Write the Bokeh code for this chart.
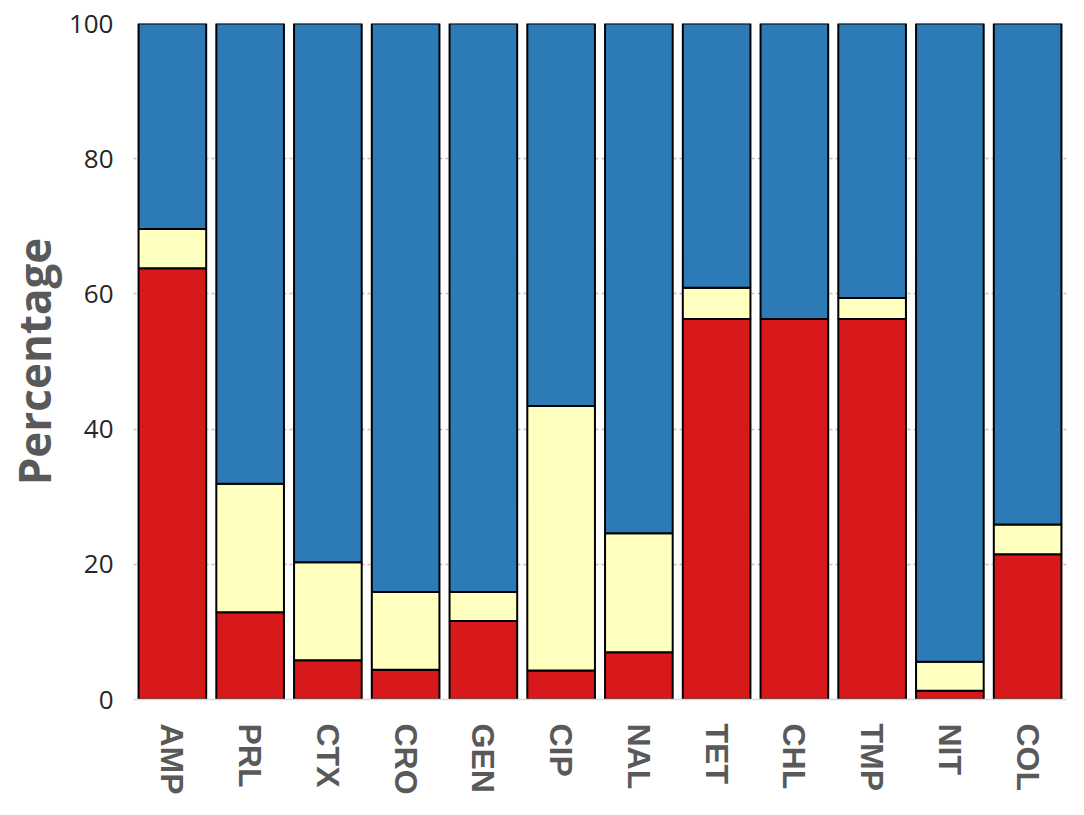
import math
from bokeh.plotting import figure
from bokeh.models import FactorRange, Range1d, FixedTicker
from bokeh.embed import file_html
from bokeh.resources import INLINE

categories = ["AMP", "PRL", "CTX", "CRO", "GEN", "CIP", "NAL", "TET", "CHL", "TMP", "NIT", "COL"]
resistant = [63.8, 12.9, 5.8, 4.4, 11.6, 4.3, 7.0, 56.3, 56.3, 56.3, 1.3, 21.5]
intermediate = [5.8, 19.0, 14.5, 11.5, 4.3, 39.1, 17.6, 4.6, 0.0, 3.1, 4.3, 4.4]
susceptible = [30.4, 68.1, 79.7, 84.1, 84.1, 56.6, 75.4, 39.1, 43.7, 40.6, 94.4, 74.1]
y_ticks = [0, 20, 40, 60, 80, 100]

series = ["resistant", "intermediate", "susceptible"]
colors = ["#D7191C", "#FFFFBF", "#2C7BB6"]

source = dict(cat=categories, resistant=resistant,
              intermediate=intermediate, susceptible=susceptible)

p = figure(x_range=FactorRange(*categories, range_padding=0),
           y_range=Range1d(0, 100),
           width=1068, height=799,
           output_backend="svg", toolbar_location=None,
           min_border_left=128, min_border_top=23,
           min_border_right=2, min_border_bottom=100)

p.vbar_stack(series, x="cat", width=0.87, color=colors,
             line_color="black", line_width=2, source=source)

p.outline_line_color = None
p.background_fill_color = "white"

p.xgrid.grid_line_color = None
p.ygrid.grid_line_color = "#BFBFBF"
p.ygrid.grid_line_dash = "3 3"
p.ygrid.grid_line_width = 1.5

p.yaxis.ticker = FixedTicker(ticks=y_ticks)
p.yaxis.axis_line_color = None
p.yaxis.major_tick_line_color = None
p.yaxis.major_tick_out = 0
p.yaxis.minor_tick_line_color = None
p.yaxis.minor_tick_out = 0
p.yaxis.major_label_standoff = 20
p.yaxis.major_label_text_font = "Open Sans"
p.yaxis.major_label_text_font_size = "26px"
p.yaxis.major_label_text_color = "#262626"
p.yaxis.axis_label = "Percentage"
p.yaxis.axis_label_text_font = "Open Sans"
p.yaxis.axis_label_text_font_style = "bold"
p.yaxis.axis_label_text_font_size = "44px"
p.yaxis.axis_label_text_color = "#595959"
p.yaxis.axis_label_standoff = 2

p.xaxis.axis_line_color = "#D9D9D9"
p.xaxis.axis_line_width = 1.5
p.xaxis.major_tick_line_color = None
p.xaxis.major_tick_out = 0
p.xaxis.minor_tick_line_color = None
p.xaxis.minor_tick_out = 0
p.xaxis.major_label_orientation = -math.pi / 2
p.xaxis.major_label_standoff = 24
p.xaxis.major_label_text_font = "Liberation Sans"
p.xaxis.major_label_text_font_style = "bold"
p.xaxis.major_label_text_font_size = "32px"
p.xaxis.major_label_text_color = "#595959"

open("out.html", "w").write(file_html(p, INLINE))
